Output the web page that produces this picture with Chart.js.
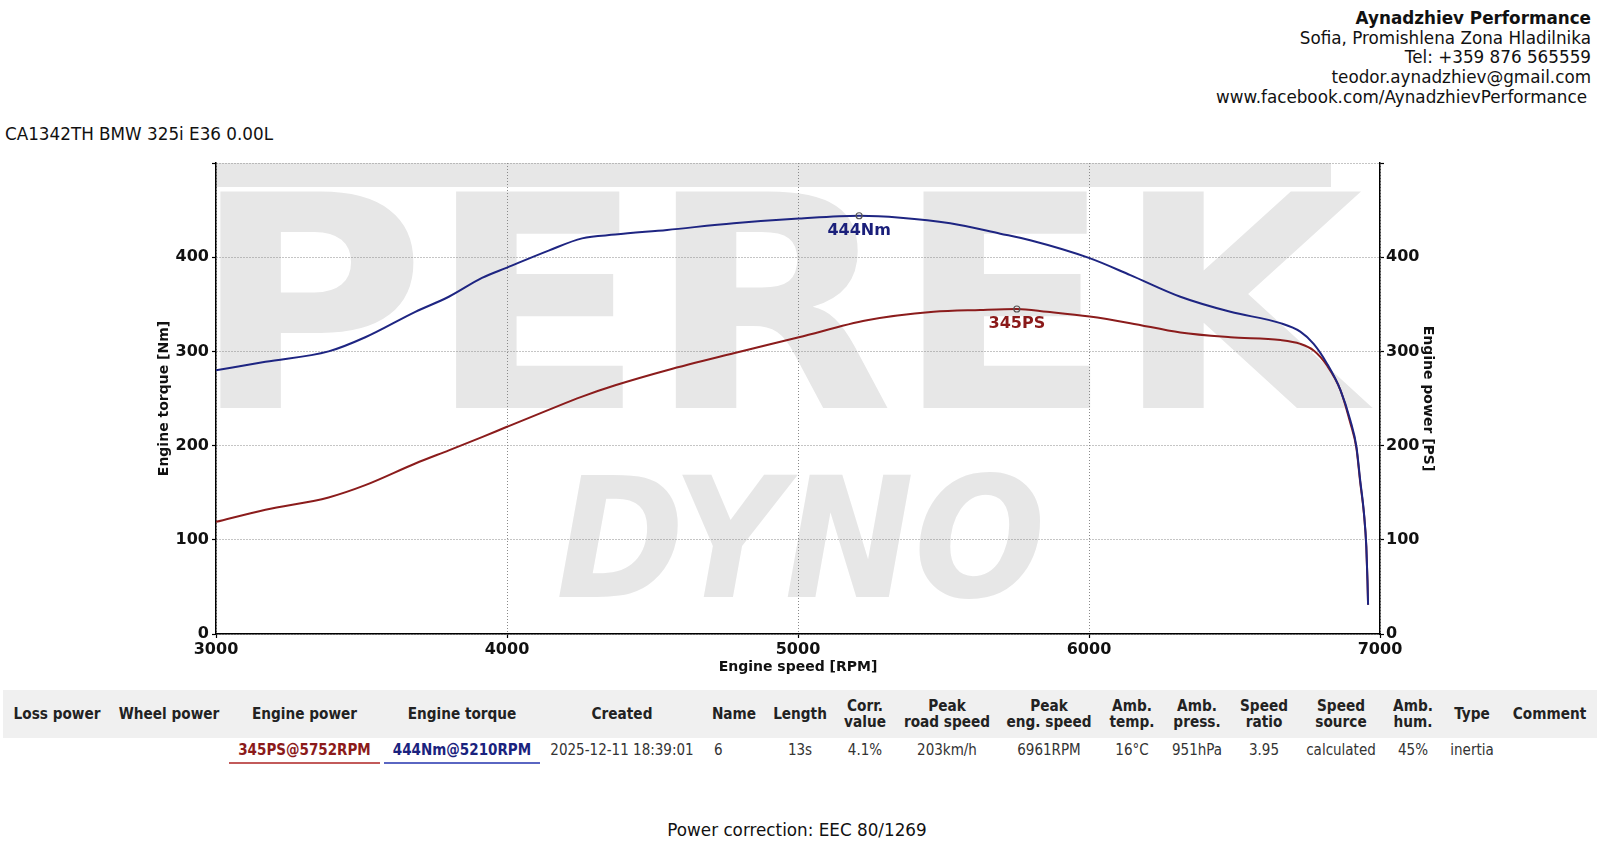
<!DOCTYPE html>
<html><head><meta charset="utf-8">
<script src="https://cdn.jsdelivr.net/npm/chart.js@4.4.0/dist/chart.umd.min.js"></script>
<style>
html,body{margin:0;padding:0;background:#fff;}
body{width:1600px;height:845px;position:relative;overflow:hidden;font-family:"DejaVu Sans",sans-serif;color:#111;}
#hdr{position:absolute;right:9px;top:9px;text-align:right;font-size:16.8px;line-height:19.7px;white-space:nowrap;}
#hdr .b{font-weight:bold;}
#hdr .l{padding-right:4px;}
#title{position:absolute;left:5px;top:124px;font-size:16.8px;line-height:20px;white-space:nowrap;}
#wrap{position:absolute;left:0;top:140px;width:1600px;height:540px;}
#tbl{position:absolute;left:3px;top:690px;border-collapse:collapse;table-layout:fixed;font-family:"DejaVu Sans Condensed","Liberation Sans Narrow","DejaVu Sans",sans-serif;}
#tbl th{background:#f0f0f0;font-weight:bold;font-size:15.2px;line-height:16.5px;height:48px;padding:0 2px;text-align:center;color:#222;}
#tbl td{font-size:15px;height:26px;padding:0 2px;text-align:center;color:#333;vertical-align:top;}
#tbl td div{line-height:24px;height:24px;border-bottom:2px solid transparent;white-space:nowrap;}
#foot{position:absolute;left:0;width:1594px;top:820px;text-align:center;font-size:16.8px;line-height:20px;}
</style></head>
<body>
<div id="hdr"><div class="b">Aynadzhiev Performance</div><div>Sofia, Promishlena Zona Hladilnika</div><div>Tel: +359 876 565559</div><div>teodor.aynadzhiev@gmail.com</div><div class="l">www.facebook.com/AynadzhievPerformance</div></div>
<div id="title">CA1342TH BMW 325i E36 0.00L</div>
<div id="wrap"><canvas id="c"></canvas></div>
<table id="tbl"><colgroup id="cg"></colgroup><thead><tr id="hr"></tr></thead><tbody><tr id="dr"></tr></tbody></table>
<div id="foot">Power correction: EEC 80/1269</div>
<script>
// ---- data ----
const rpmTorque = [3000,3170,3387,3513,3685,3800,3914,4000,4143,4258,4372,4550,4779,5003,5210,5352,5523,5695,5798,6002,6142,6314,6486,6658,6726,6772,6818,6864,6898,6919,6932,6945,6953,6957,6959];
const torqueNm  = [280,289,300,315,342,358,378,389,407,420,424,429,436,441,444,442,436,425,418,399,381,358,342,330,321,308,287,259,227,199,163,128,93,57,31];
const rpmPower  = [3000,3170,3387,3513,3685,3800,3914,4000,4143,4258,4372,4550,4779,5003,5237,5466,5626,5752,5856,6002,6142,6314,6486,6658,6726,6772,6818,6864,6898,6919,6932,6945,6953,6957,6959];
const powerPS   = [119,132,145,158,181,195,209,220,238,252,264,280,298,315,333,342,344,345,342,337,330,320,315,312,308,301,285,259,224,197,161,127,92,56,31];
const xTicks = [3000,4000,5000,6000,7000];
const yTicks = [0,100,200,300,400,500];
const peakTorque = [5210,444];
const peakPower  = [5752,345];
const peakLabels = ['444Nm','345PS'];
const tableHeaders = ['Loss power','Wheel power','Engine power','Engine torque','Created','Name','Length','Corr.<br>value','Peak<br>road speed','Peak<br>eng. speed','Amb.<br>temp.','Amb.<br>press.','Speed<br>ratio','Speed<br>source','Amb.<br>hum.','Type','Comment'];
const tableValues  = ['','','345PS@5752RPM','444Nm@5210RPM','2025-12-11 18:39:01','6','13s','4.1%','203km/h','6961RPM','16°C','951hPa','3.95','calculated','45%','inertia',''];
const colWidths = [108,116,155,160,160,64,68,62,102,102,64,66,68,86,58,60,95];

const TORQUE_C = '#1e2582', POWER_C = '#8b1c1c';

// ---- table ----
const cg=document.getElementById('cg'), hr=document.getElementById('hr'), dr=document.getElementById('dr');
colWidths.forEach(w=>{const c=document.createElement('col');c.style.width=w+'px';cg.appendChild(c);});
tableHeaders.forEach(h=>{const th=document.createElement('th');th.innerHTML=h;hr.appendChild(th);});
tableValues.forEach((v,i)=>{const td=document.createElement('td');const d=document.createElement('div');d.textContent=v;
  if(i===2){d.style.color='#8b1a1a';d.style.fontWeight='bold';d.style.borderBottomColor='#c25a5a';}
  if(i===3){d.style.color='#1a237e';d.style.fontWeight='bold';d.style.borderBottomColor='#5a66c2';}
  if(i===5){d.style.textAlign='left';d.style.paddingLeft='10px';}
  td.appendChild(d);dr.appendChild(td);});

// ---- plugins ----
const watermark = {id:'wm', beforeDraw(chart){
  const {ctx, chartArea:a} = chart;
  ctx.save();
  ctx.fillStyle='#e7e7e7';
  ctx.fillRect(a.left, a.top, 1115, 24);
  ctx.font='bold 300px "DejaVu Sans"';
  let m=ctx.measureText('PEREK');
  let w=m.actualBoundingBoxLeft+m.actualBoundingBoxRight, h=m.actualBoundingBoxAscent;
  ctx.translate(a.left, a.top+245);
  ctx.scale((a.right-a.left-5)/w, 218/h);
  ctx.fillText('PEREK', m.actualBoundingBoxLeft, 0);
  ctx.restore();
  ctx.save();
  ctx.fillStyle='#e7e7e7';
  ctx.font='bold italic 100px "DejaVu Sans"';
  m=ctx.measureText('DYNO');
  w=m.actualBoundingBoxLeft+m.actualBoundingBoxRight; h=m.actualBoundingBoxAscent;
  ctx.translate(a.left+343, a.top+434);
  ctx.scale(482/w, 126/h);
  ctx.fillText('DYNO', m.actualBoundingBoxLeft, 0);
  ctx.restore();
}};
const peaks = {id:'peaks', afterDatasetsDraw(chart){
  const {ctx, scales} = chart;
  [[peakTorque,'y','#1a1f7a',peakLabels[0]],[peakPower,'y2','#8b1a1a',peakLabels[1]]].forEach(([p,ax,lc,lab])=>{
    const x=scales.x.getPixelForValue(p[0]), y=scales[ax].getPixelForValue(p[1]);
    ctx.save();
    ctx.beginPath();ctx.arc(x,y,3,0,Math.PI*2);ctx.strokeStyle='#555';ctx.lineWidth=1.2;ctx.stroke();
    ctx.font='bold 16px "DejaVu Sans"';ctx.fillStyle=lc;ctx.textAlign='center';ctx.textBaseline='middle';
    ctx.fillText(lab,x,y+15);
    ctx.restore();
  });
}};

const tickFont={family:'"DejaVu Sans"',size:16,weight:'bold'};
const titleFont={family:'"DejaVu Sans"',size:14,weight:'bold'};
const gridBase={color:'#8a8a8a',lineWidth:1,tickLength:4,tickColor:'#000',tickWidth:1.2};
const borderBase={color:'#000',width:1.5,dash:[1,2]};
const setTicks = arr => s => { s.ticks = arr.map(v=>({value:v})); };
const plain = v => String(v);

new Chart(document.getElementById('c'), {
  type:'line',
  data:{datasets:[
    {label:'Engine torque', data:rpmTorque.map((x,i)=>({x, y:torqueNm[i]})), yAxisID:'y', borderColor:TORQUE_C, borderWidth:2, pointRadius:0, fill:false, cubicInterpolationMode:'monotone'},
    {label:'Engine power', data:rpmPower.map((x,i)=>({x, y:powerPS[i]})), yAxisID:'y2', borderColor:POWER_C, borderWidth:2, pointRadius:0, fill:false, cubicInterpolationMode:'monotone'}
  ]},
  options:{
    responsive:true, maintainAspectRatio:false, animation:false,
    layout:{padding:{top:23,left:0,right:0,bottom:0}},
    plugins:{legend:{display:false}, tooltip:{enabled:false}},
    scales:{
      x:{type:'linear', min:3000, max:7000, afterBuildTicks:setTicks(xTicks),
        grid:gridBase, border:borderBase,
        ticks:{font:tickFont, color:'#111', padding:2, maxRotation:0, autoSkip:false, callback:plain},
        title:{display:true, text:'Engine speed [RPM]', font:titleFont, color:'#111', padding:{top:0,bottom:4}},
        afterFit:s=>{s.height=46;}},
      y:{type:'linear', position:'left', min:0, max:500, afterBuildTicks:setTicks(yTicks),
        grid:gridBase, border:borderBase,
        ticks:{font:tickFont, color:'#111', padding:3, callback:v=>v===500?'':String(v)},
        title:{display:true, text:'Engine torque [Nm]', font:titleFont, color:'#111', padding:{top:156,bottom:0}},
        afterFit:s=>{s.width=216;}},
      y2:{type:'linear', position:'right', min:0, max:500, afterBuildTicks:setTicks(yTicks),
        grid:Object.assign({},gridBase,{drawOnChartArea:false}), border:{color:'#000',width:1.5},
        ticks:{font:tickFont, color:'#111', padding:2, callback:v=>v===500?'':String(v)},
        title:{display:true, text:'Engine power [PS]', font:titleFont, color:'#111', padding:{top:164,bottom:0}},
        afterFit:s=>{s.width=220;}}
    }
  },
  plugins:[watermark, peaks]
});
</script>
</body></html>
